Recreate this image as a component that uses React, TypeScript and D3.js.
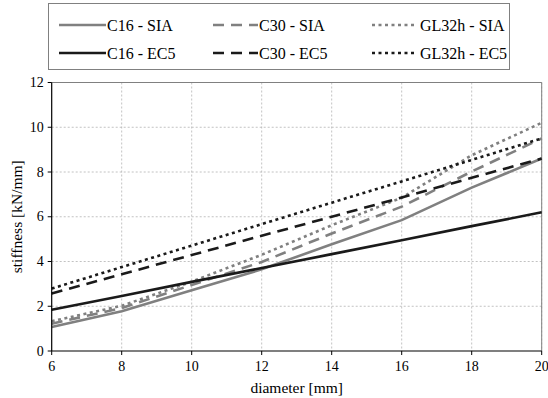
import React from "react";
import * as d3 from "d3";

const diameters = [6, 8, 10, 12, 14, 16, 18, 20];
const c16SIA = [1.07, 1.78, 2.72, 3.65, 4.77, 5.85, 7.3, 8.6];
const c30SIA = [1.22, 1.92, 2.95, 3.98, 5.25, 6.45, 8.02, 9.5];
const gl32hSIA = [1.33, 2.02, 3.1, 4.3, 5.62, 6.85, 8.75, 10.2];
const c16EC5 = [1.84, 2.46, 3.09, 3.71, 4.33, 4.95, 5.58, 6.2];
const c30EC5 = [2.57, 3.43, 4.29, 5.15, 6.0, 6.86, 7.74, 8.6];
const gl32hEC5 = [2.79, 3.75, 4.71, 5.67, 6.63, 7.58, 8.54, 9.5];
const xTicks = [6, 8, 10, 12, 14, 16, 18, 20];
const yTicks = [0, 2, 4, 6, 8, 10, 12];

const GRAY = "#808080";
const BLACK = "#1a1a1a";
const DASH = "11,7";
const DOT = "3,3.5";

const series = [
  { name: "C16 - SIA", values: c16SIA, color: GRAY, dash: null },
  { name: "C30 - SIA", values: c30SIA, color: GRAY, dash: DASH },
  { name: "GL32h - SIA", values: gl32hSIA, color: GRAY, dash: DOT },
  { name: "C16 - EC5", values: c16EC5, color: BLACK, dash: null },
  { name: "C30 - EC5", values: c30EC5, color: BLACK, dash: DASH },
  { name: "GL32h - EC5", values: gl32hEC5, color: BLACK, dash: DOT },
];

const FONT = "'Times New Roman', 'Liberation Serif', 'DejaVu Serif', serif";

export default function App() {
  const W = 548, H = 398;
  const left = 51.7, right = 541.7, top = 82.5, bottom = 351;
  const x = d3.scaleLinear().domain([6, 20]).range([left, right]);
  const y = d3.scaleLinear().domain([0, 12]).range([bottom, top]);
  const line = d3.line<number>().x((_, i) => x(diameters[i])).y((v) => y(v));

  const legendCols = [59, 213, 372];
  const legendRows = [25, 53];
  const lineLen = [47, 45, 43];

  return (
    <svg width={W} height={H} style={{ position: "absolute", left: 0, top: 0, fontFamily: FONT }}>
      <rect width={W} height={H} fill="#fff" />
      {xTicks.slice(1).map((t) => (
        <line key={"gx" + t} x1={x(t)} x2={x(t)} y1={top} y2={bottom} stroke="#b3b3b3" strokeWidth={0.8} strokeDasharray="2,2" />
      ))}
      {yTicks.slice(1).map((t) => (
        <line key={"gy" + t} x1={left} x2={right} y1={y(t)} y2={y(t)} stroke="#b3b3b3" strokeWidth={0.8} strokeDasharray="2,2" />
      ))}
      <line x1={left} x2={right} y1={top} y2={top} stroke="#808080" strokeWidth={1} />
      <line x1={right} x2={right} y1={top} y2={bottom} stroke="#808080" strokeWidth={1} />
      {series.map((s) => (
        <path key={s.name} d={line(s.values) || ""} fill="none" stroke={s.color} strokeWidth={2.6}
          strokeDasharray={s.dash || undefined} />
      ))}
      <line x1={left} x2={left} y1={top} y2={bottom} stroke="#000" strokeWidth={1.2} />
      <line x1={left} x2={right} y1={bottom} y2={bottom} stroke="#000" strokeWidth={1.2} />
      {xTicks.map((t) => (
        <g key={"xt" + t}>
          <line x1={x(t)} x2={x(t)} y1={bottom} y2={bottom + 4} stroke="#000" strokeWidth={1} />
          <text x={x(t)} y={bottom + 20} textAnchor="middle" fontSize={14} fill="#000">{t}</text>
        </g>
      ))}
      {yTicks.map((t) => (
        <g key={"yt" + t}>
          <line x1={left - 4} x2={left} y1={y(t)} y2={y(t)} stroke="#000" strokeWidth={1} />
          <text x={left - 8} y={y(t) + 4.5} textAnchor="end" fontSize={14} fill="#000">{t}</text>
        </g>
      ))}
      <text x={(left + right) / 2} y={393} textAnchor="middle" fontSize={15.5} fill="#000">diameter [mm]</text>
      <text transform={`translate(22,${(top + bottom) / 2}) rotate(-90)`} textAnchor="middle" fontSize={15.5} fill="#000">stiffness [kN/mm]</text>
      <rect x={48.5} y={3.5} width={461} height={66} fill="#fff" stroke="#808080" strokeWidth={1} />
      {series.map((s, i) => {
        const col = i % 3, row = Math.floor(i / 3);
        const lx = legendCols[col], ly = legendRows[row];
        return (
          <g key={"lg" + s.name}>
            <line x1={lx} x2={lx + lineLen[col]} y1={ly} y2={ly} stroke={s.color} strokeWidth={2.6}
              strokeDasharray={s.dash || undefined} />
            <text x={lx + lineLen[col] + (col === 2 ? 5 : 1)} y={ly + 5.5} fontSize={16} fill="#000">{s.name}</text>
          </g>
        );
      })}
    </svg>
  );
}
